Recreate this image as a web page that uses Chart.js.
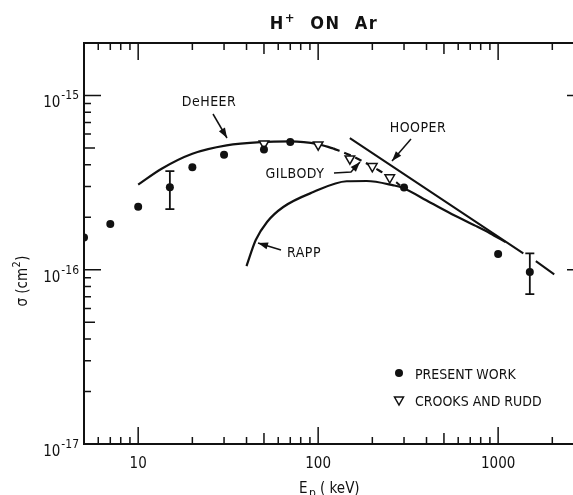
<!DOCTYPE html>
<html lang="en">
<head>
<meta charset="UTF-8">
<title>H+ ON Ar</title>
<script src="https://cdn.jsdelivr.net/npm/chart.js@4.4.0/dist/chart.umd.min.js"></script>
<style>
    html, body { margin: 0; padding: 0; background: #fff; overflow: hidden; }
    /* plot frame runs past the right edge of the window, like the scan */
    .wrap { width: 600px; height: 495px; }
</style>
</head>
<body>
<div class="wrap"><canvas id="chart"></canvas></div>
<script>
// present work (filled circles), E in keV, sigma in cm^2
const workE = [5, 7, 10, 15, 20, 30, 50, 70, 300, 1000, 1500];
const workSigma = [1.53e-16, 1.83e-16, 2.30e-16, 2.97e-16, 3.87e-16, 4.57e-16, 4.90e-16, 5.40e-16, 2.96e-16, 1.23e-16, 9.7e-17];

// error bars on two of the present-work points
const errE = [15, 1500];
const errLow = [2.23e-16, 7.24e-17];
const errHigh = [3.68e-16, 1.24e-16];

// Crooks and Rudd (open triangles)
const crooksE = [50, 100, 150, 200, 250];
const crooksSigma = [5.29e-16, 5.22e-16, 4.34e-16, 3.92e-16, 3.38e-16];

// curves
const deheerE = [10, 13.5, 20, 31, 48, 70, 100, 121];
const deheerSigma = [3.08e-16, 3.80e-16, 4.63e-16, 5.17e-16, 5.40e-16, 5.45e-16, 5.25e-16, 4.97e-16];

const gilbodyE = [121, 150, 180, 210, 250, 285];
const gilbodySigma = [4.97e-16, 4.55e-16, 4.15e-16, 3.80e-16, 3.40e-16, 3.05e-16];

const rappE = [40, 45, 52, 64, 94, 144, 186, 262, 292, 419, 577, 750, 900, 1100];
const rappSigma = [1.05e-16, 1.48e-16, 1.88e-16, 2.29e-16, 2.79e-16, 3.22e-16, 3.23e-16, 3.05e-16, 2.96e-16, 2.43e-16, 2.04e-16, 1.785e-16, 1.62e-16, 1.44e-16];

// straight line, broken where it crosses the 1500 keV error bar
const hooperE = [150, 1380, 1500, 1620, 2050];
const hooperSigma = [5.69e-16, 1.24e-16, null, 1.12e-16, 9.4e-17];

// axes
const xMin = 5, xMax = 3000;
const yMin = 1e-17, yMax = 2e-15;
const xTickVals = [10, 100, 1000];
const xTickLabels = ['10', '100', '1000'];
const yTickVals = [1e-17, 1e-16, 1e-15];
const yTickExp = ['-17', '-16', '-15'];

const FONT = '"Liberation Sans Narrow", "DejaVu Sans Condensed", "Liberation Sans", sans-serif';
const INK = '#111';

function pts(xs, ys) {
    return xs.map((x, i) => ({ x: x, y: ys[i] }));
}

// log tick positions (1..9 per decade) inside an open range
function logTicks(lo, hi) {
    const out = [];
    for (let d = Math.floor(Math.log10(lo)); d <= Math.ceil(Math.log10(hi)); d++) {
        for (let m = 1; m <= 9; m++) {
            const v = m * Math.pow(10, d);
            if (v > lo * 1.0001 && v < hi * 0.9999) out.push({ v: v, m: m });
        }
    }
    return out;
}

function tickLen(m) {
    if (m === 1) return 17;
    if (m === 5) return 11;
    return 7;
}

function arrow(ctx, path) {
    ctx.beginPath();
    ctx.moveTo(path[0][0], path[0][1]);
    for (let i = 1; i < path.length; i++) ctx.lineTo(path[i][0], path[i][1]);
    ctx.stroke();
    const [x1, y1] = path[path.length - 2];
    const [x2, y2] = path[path.length - 1];
    const a = Math.atan2(y2 - y1, x2 - x1);
    const L = 10, W = 3.5;
    ctx.beginPath();
    ctx.moveTo(x2, y2);
    ctx.lineTo(x2 - L * Math.cos(a) + W * Math.sin(a), y2 - L * Math.sin(a) - W * Math.cos(a));
    ctx.lineTo(x2 - L * Math.cos(a) - W * Math.sin(a), y2 - L * Math.sin(a) + W * Math.cos(a));
    ctx.closePath();
    ctx.fill();
}

const framePlugin = {
    id: 'frame',
    afterDatasetsDraw(chart) {
        const ctx = chart.ctx;
        const xs = chart.scales.x, ys = chart.scales.y;
        const a = chart.chartArea;
        ctx.save();
        ctx.strokeStyle = INK;
        ctx.fillStyle = INK;

        // error bars
        ctx.lineWidth = 1.8;
        errE.forEach((e, i) => {
            const px = xs.getPixelForValue(e);
            const top = ys.getPixelForValue(errHigh[i]);
            const bot = ys.getPixelForValue(errLow[i]);
            ctx.beginPath();
            ctx.moveTo(px, top); ctx.lineTo(px, bot);
            ctx.moveTo(px - 4.5, top); ctx.lineTo(px + 4.5, top);
            ctx.moveTo(px - 4.5, bot); ctx.lineTo(px + 4.5, bot);
            ctx.stroke();
        });

        // frame
        ctx.lineWidth = 2;
        ctx.beginPath();
        ctx.moveTo(a.left, a.top); ctx.lineTo(a.right, a.top);
        ctx.lineTo(a.right, a.bottom); ctx.lineTo(a.left, a.bottom);
        ctx.closePath();
        ctx.stroke();

        // inward ticks on all four sides
        ctx.lineWidth = 1.5;
        ctx.beginPath();
        logTicks(xMin, xMax).forEach(t => {
            const px = xs.getPixelForValue(t.v);
            const l = tickLen(t.m);
            ctx.moveTo(px, a.bottom); ctx.lineTo(px, a.bottom - l);
            ctx.moveTo(px, a.top); ctx.lineTo(px, a.top + l);
        });
        logTicks(yMin, yMax).forEach(t => {
            const py = ys.getPixelForValue(t.v);
            const l = tickLen(t.m);
            ctx.moveTo(a.left, py); ctx.lineTo(a.left + l, py);
            ctx.moveTo(a.right, py); ctx.lineTo(a.right - l, py);
        });
        ctx.stroke();

        // x tick labels
        ctx.font = '15px ' + FONT;
        ctx.textAlign = 'center';
        ctx.textBaseline = 'alphabetic';
        xTickVals.forEach((v, i) => {
            ctx.fillText(xTickLabels[i], xs.getPixelForValue(v), 468);
        });

        // y tick labels 10^-n
        yTickVals.forEach((v, i) => {
            const py = ys.getPixelForValue(v);
            ctx.textAlign = 'right';
            ctx.font = '12px ' + FONT;
            const sw = ctx.measureText(yTickExp[i]).width;
            ctx.fillText(yTickExp[i], a.left - 5, py + 4);
            ctx.font = '15px ' + FONT;
            ctx.fillText('10', a.left - 6 - sw, py + 12);
        });

        // x axis title
        ctx.textAlign = 'left';
        ctx.font = '15px ' + FONT;
        ctx.fillText('E', 299, 493);
        ctx.font = '12px ' + FONT;
        ctx.fillText('p', 309, 497);
        ctx.font = '15px ' + FONT;
        ctx.fillText('( keV)', 320, 493);

        // y axis title
        ctx.save();
        ctx.translate(27, 281);
        ctx.rotate(-Math.PI / 2);
        ctx.textAlign = 'left';
        ctx.font = '15px ' + FONT;
        const w1 = ctx.measureText('σ (cm').width;
        ctx.font = '11px ' + FONT;
        const w2 = ctx.measureText('2').width;
        ctx.font = '15px ' + FONT;
        const w3 = ctx.measureText(')').width;
        let x0 = -(w1 + w2 + w3 + 1) / 2;
        ctx.fillText('σ (cm', x0, 0);
        ctx.font = '11px ' + FONT;
        ctx.fillText('2', x0 + w1 + 0.5, -7);
        ctx.font = '15px ' + FONT;
        ctx.fillText(')', x0 + w1 + w2 + 1, 0);
        ctx.restore();

        // title
        ctx.font = 'bold 18px ' + FONT;
        ctx.letterSpacing = '1.5px';
        const tH = ctx.measureText('H').width;
        const tRest = ctx.measureText('  ON  Ar').width;
        ctx.font = 'bold 13px ' + FONT;
        const tP = ctx.measureText('+').width;
        let tx = 324 - (tH + tP + tRest) / 2;
        ctx.textAlign = 'left';
        ctx.font = 'bold 18px ' + FONT;
        ctx.fillText('H', tx, 29);
        ctx.font = 'bold 13px ' + FONT;
        ctx.fillText('+', tx + tH, 22);
        ctx.font = 'bold 18px ' + FONT;
        ctx.fillText('  ON  Ar', tx + tH + tP, 29);
        ctx.letterSpacing = '0px';

        // curve labels and arrows
        ctx.font = '14px ' + FONT;
        ctx.textAlign = 'center';
        ctx.letterSpacing = '0.5px';
        ctx.fillText('DeHEER', 209, 106);
        ctx.fillText('HOOPER', 418, 132);
        ctx.fillText('GILBODY', 295, 178);
        ctx.fillText('RAPP', 304, 257);
        ctx.letterSpacing = '0px';
        ctx.lineWidth = 1.5;
        arrow(ctx, [[213, 114], [227, 138]]);
        arrow(ctx, [[411, 139], [392, 161]]);
        arrow(ctx, [[334, 173], [351, 172], [360, 162]]);
        arrow(ctx, [[281, 250], [258, 243]]);

        // legend
        ctx.beginPath();
        ctx.arc(399, 373, 4, 0, Math.PI * 2);
        ctx.fill();
        ctx.lineWidth = 1.5;
        ctx.beginPath();
        ctx.moveTo(394.5, 397); ctx.lineTo(403.5, 397); ctx.lineTo(399, 405);
        ctx.closePath();
        ctx.stroke();
        ctx.textAlign = 'left';
        ctx.font = '14px ' + FONT;
        ctx.fillText('PRESENT WORK', 415, 379);
        ctx.fillText('CROOKS AND RUDD', 415, 406);

        ctx.restore();
    }
};

const lineStyle = {
    showLine: true,
    pointRadius: 0,
    borderColor: INK,
    borderWidth: 2.2,
    fill: false,
    order: 2
};

new Chart(document.getElementById('chart'), {
    type: 'scatter',
    data: {
        datasets: [
            Object.assign({ label: 'DeHEER', data: pts(deheerE, deheerSigma), cubicInterpolationMode: 'monotone' }, lineStyle),
            Object.assign({ label: 'GILBODY', data: pts(gilbodyE, gilbodySigma), cubicInterpolationMode: 'monotone', borderDash: [7, 5] }, lineStyle),
            Object.assign({ label: 'RAPP', data: pts(rappE, rappSigma), cubicInterpolationMode: 'monotone' }, lineStyle),
            Object.assign({ label: 'HOOPER', data: pts(hooperE, hooperSigma), tension: 0, spanGaps: false }, lineStyle, { borderWidth: 2 }),
            {
                label: 'CROOKS AND RUDD',
                data: pts(crooksE, crooksSigma),
                pointStyle: 'triangle',
                rotation: 180,
                pointRadius: 5.5,
                pointBackgroundColor: '#fff',
                pointBorderColor: INK,
                pointBorderWidth: 1.5,
                order: 1
            },
            {
                label: 'PRESENT WORK',
                data: pts(workE, workSigma),
                pointStyle: 'circle',
                pointRadius: 4,
                pointBackgroundColor: INK,
                pointBorderColor: INK,
                pointBorderWidth: 0,
                order: 0
            }
        ]
    },
    options: {
        responsive: true,
        maintainAspectRatio: false,
        animation: false,
        layout: { padding: { left: 84, top: 43, right: 16, bottom: 51 } },
        plugins: { legend: { display: false }, tooltip: { enabled: false }, title: { display: false } },
        scales: {
            x: { type: 'logarithmic', min: xMin, max: xMax, display: false },
            y: { type: 'logarithmic', min: yMin, max: yMax, display: false }
        }
    },
    plugins: [framePlugin]
});
</script>
</body>
</html>
